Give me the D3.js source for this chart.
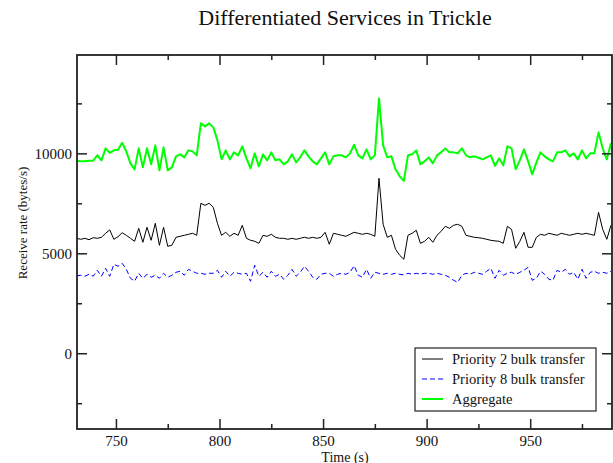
<!DOCTYPE html>
<html>
<head>
<meta charset="utf-8">
<script src="https://cdn.jsdelivr.net/npm/d3@7"></script>
<style>
  body { margin: 0; background: #fff; }
  svg { display: block; font-family: "Liberation Serif", "DejaVu Serif", serif; }
</style>
</head>
<body>
<svg id="chart" width="613" height="463"></svg>
<script>
// sampled every 2 s starting at t = 731
const startTime = 731;
const stepTime = 2;

const priority2 = [5750, 5700, 5750, 5680, 5780, 5750, 5800, 6000, 6170, 5700,
  5830, 6030, 5900, 5750, 5600, 6250, 5550, 6300, 5650, 6500,
  5400, 6300, 5350, 5400, 5800, 5850, 5900, 5950, 6000, 5900,
  7500, 7400, 7500, 7300, 6500, 5900, 6050, 5850, 6000, 5900,
  6400, 5750, 5650, 5600, 5500, 5900, 5850, 5950, 5800, 5750,
  5750, 5700, 5750, 5700, 5750, 5800, 5750, 5800, 5750, 5800,
  6050, 5450, 6000, 5950, 5900, 5850, 5950, 6050, 6000, 5950,
  6000, 5950, 5850, 8750, 6450, 5800, 5900, 5200, 4900, 4700,
  5900, 6000, 6150, 5500, 5600, 5800, 5550, 5900, 6100, 6350,
  6250, 6400, 6450, 6350, 5900, 5850, 5800, 5780, 5750, 5700,
  5650, 5620, 5600, 5500, 6350, 6200, 5250, 5600, 6050, 5300,
  5300, 5800, 5950, 5900, 6000, 5950, 5900, 6000, 5950, 5900,
  5950, 6000, 5950, 6000, 5950, 5900, 7050, 6200, 5700, 6400];

const priority8 = [3880, 3900, 3850, 3950, 3850, 4150, 3850, 4250, 3850, 4450,
  4350, 4500, 4200, 3750, 3600, 4000, 3750, 3950, 3800, 3900,
  3750, 4000, 3800, 3900, 4050, 4100, 3900, 4200, 4100, 4000,
  4000, 3950, 4000, 4000, 4150, 3800, 4100, 3850, 4050, 4000,
  3950, 4000, 3600, 4400, 3850, 4050, 3800, 4100, 3850, 3950,
  3700, 3900, 4200, 3850, 4050, 4350, 4100, 3800, 3700, 3950,
  4000, 4000, 3850, 3950, 4000, 3950, 4050, 4380, 3900, 3800,
  4200, 3750, 4050, 4000, 3950, 4000, 3950, 4000, 3950, 3920,
  4000, 3950, 4000, 3950, 4000, 4000, 3950, 4000, 3950, 3900,
  3800, 3650, 3550, 3900, 4000, 3950, 4050, 4000, 3950, 4100,
  4250, 3750, 4150, 3900, 4000, 4050, 3950, 4050, 4150, 4300,
  3650, 3750, 4100, 3950, 3700, 3650, 4150, 4050, 4200, 3950,
  4050, 3700, 4200, 3750, 4050, 4100, 4000, 4050, 4000, 4100];

const aggregate = [9630, 9600, 9600, 9630, 9630, 9900, 9650, 10250, 10020, 10150,
  10180, 10530, 10100, 9500, 9200, 10250, 9300, 10250, 9450, 10400,
  9150, 10300, 9150, 9300, 9850, 9950, 9800, 10150, 10100, 9900,
  11500, 11350, 11500, 11300, 10650, 9700, 10150, 9700, 10050, 9900,
  10350, 9750, 9250, 10000, 9350, 9950, 9650, 10050, 9650, 9700,
  9450, 9600, 9950, 9550, 9800, 10150, 9850, 9600, 9450, 9750,
  10050, 9450, 9850, 9900, 9900, 9800, 10000, 10430, 9900, 9750,
  10200, 9700, 9900, 12750, 10400, 9800, 9850, 9200, 8850, 8620,
  9900, 9950, 10150, 9450, 9600, 9800, 9500, 9900, 10050, 10250,
  10050, 10050, 10000, 10250, 9900, 9800, 9850, 9780, 9700, 9800,
  9900, 9370, 9750, 9400, 10350, 10250, 9200, 9650, 10200, 9600,
  8950, 9550, 10050, 9850, 9700, 9600, 10050, 10050, 10150, 9850,
  10000, 9700, 10150, 9750, 10000, 10000, 11050, 10250, 9700, 10500];

const seriesNames = ["Priority 2 bulk transfer", "Priority 8 bulk transfer", "Aggregate"];
const xTicks = [750, 800, 850, 900, 950];
const yTicks = [0, 5000, 10000];

const svg = d3.select("#chart");
const plotLeft = 77, plotRight = 612, plotTop = 55, plotBottom = 429;

const x = d3.scaleLinear().domain([731.2, 989.5]).range([plotLeft, plotRight]);
const y = d3.scaleLinear().domain([-3790, 14920]).range([plotBottom, plotTop]);

const minorX = [775, 825, 875, 925, 975];
const minorY = [-2500, 2500, 7500, 12500];

const plot = svg.append("g");

function series(vals) {
    return vals.map((v, i) => [startTime + i * stepTime, v]);
}

const line = d3.line().x(d => x(d[0])).y(d => y(d[1]));

plot.append("path")
    .datum(series(aggregate))
    .attr("fill", "none")
    .attr("stroke", "#00ff00")
    .attr("stroke-width", 2)
    .attr("stroke-linejoin", "round")
    .attr("d", line);

plot.append("path")
    .datum(series(priority2))
    .attr("fill", "none")
    .attr("stroke", "#000")
    .attr("stroke-width", 1)
    .attr("d", line);

plot.append("path")
    .datum(series(priority8))
    .attr("fill", "none")
    .attr("stroke", "#0000ff")
    .attr("stroke-width", 1)
    .attr("stroke-dasharray", "5,3")
    .attr("d", line);

// frame with inward ticks on all four sides
const axisStyle = g => {
    g.select(".domain").remove();
    g.selectAll(".tick line").attr("stroke", "#222").attr("stroke-width", 1.5);
    g.selectAll(".tick text").attr("font-size", 15).attr("fill", "#111")
        .attr("font-family", "Liberation Serif, serif");
};

svg.append("g")
    .attr("transform", `translate(0,${plotBottom})`)
    .call(d3.axisBottom(x).tickValues(xTicks).tickSize(-10).tickPadding(6))
    .call(axisStyle);
svg.append("g")
    .attr("transform", `translate(0,${plotBottom})`)
    .call(d3.axisBottom(x).tickValues(minorX).tickSize(-5).tickFormat(""))
    .call(axisStyle);
svg.append("g")
    .attr("transform", `translate(0,${plotTop})`)
    .call(d3.axisTop(x).tickValues(xTicks).tickSize(-10).tickFormat(""))
    .call(axisStyle);
svg.append("g")
    .attr("transform", `translate(0,${plotTop})`)
    .call(d3.axisTop(x).tickValues(minorX).tickSize(-5).tickFormat(""))
    .call(axisStyle);

svg.append("g")
    .attr("transform", `translate(${plotLeft},0)`)
    .call(d3.axisLeft(y).tickValues(yTicks).tickSize(-10).tickPadding(5).tickFormat(d3.format("d")))
    .call(axisStyle);
svg.append("g")
    .attr("transform", `translate(${plotLeft},0)`)
    .call(d3.axisLeft(y).tickValues(minorY).tickSize(-5).tickFormat(""))
    .call(axisStyle);
svg.append("g")
    .attr("transform", `translate(${plotRight},0)`)
    .call(d3.axisRight(y).tickValues(yTicks).tickSize(-10).tickFormat(""))
    .call(axisStyle);
svg.append("g")
    .attr("transform", `translate(${plotRight},0)`)
    .call(d3.axisRight(y).tickValues(minorY).tickSize(-5).tickFormat(""))
    .call(axisStyle);

svg.append("rect")
    .attr("x", plotLeft).attr("y", plotTop)
    .attr("width", plotRight - plotLeft).attr("height", plotBottom - plotTop)
    .attr("fill", "none").attr("stroke", "#222").attr("stroke-width", 1.8);

// title and axis labels
svg.append("text")
    .attr("x", 345).attr("y", 25)
    .attr("text-anchor", "middle")
    .attr("font-size", 22)
    .attr("fill", "#111")
    .text("Differentiated Services in Trickle");

svg.append("text")
    .attr("x", 345).attr("y", 461.5)
    .attr("text-anchor", "middle")
    .attr("font-size", 14)
    .attr("fill", "#111")
    .text("Time (s)");

svg.append("text")
    .attr("transform", "translate(27,223) rotate(-90)")
    .attr("text-anchor", "middle")
    .attr("font-size", 13)
    .attr("fill", "#111")
    .text("Receive rate (bytes/s)");

// legend
const legend = svg.append("g").attr("transform", "translate(415,348)");
legend.append("rect")
    .attr("width", 181).attr("height", 63)
    .attr("fill", "#fff").attr("stroke", "#222").attr("stroke-width", 1.2);

const legendStyles = [
    { color: "#000", width: 1, dash: null },
    { color: "#0000ff", width: 1, dash: "5,3" },
    { color: "#00ff00", width: 2, dash: null }
];

seriesNames.forEach((name, i) => {
    const row = legend.append("g").attr("transform", `translate(0,${11 + i * 20})`);
    row.append("line")
        .attr("x1", 7).attr("x2", 28)
        .attr("stroke", legendStyles[i].color)
        .attr("stroke-width", legendStyles[i].width)
        .attr("stroke-dasharray", legendStyles[i].dash);
    row.append("text")
        .attr("x", 37).attr("y", 5)
        .attr("font-size", 14.5)
        .attr("fill", "#111")
        .text(name);
});
</script>
</body>
</html>
